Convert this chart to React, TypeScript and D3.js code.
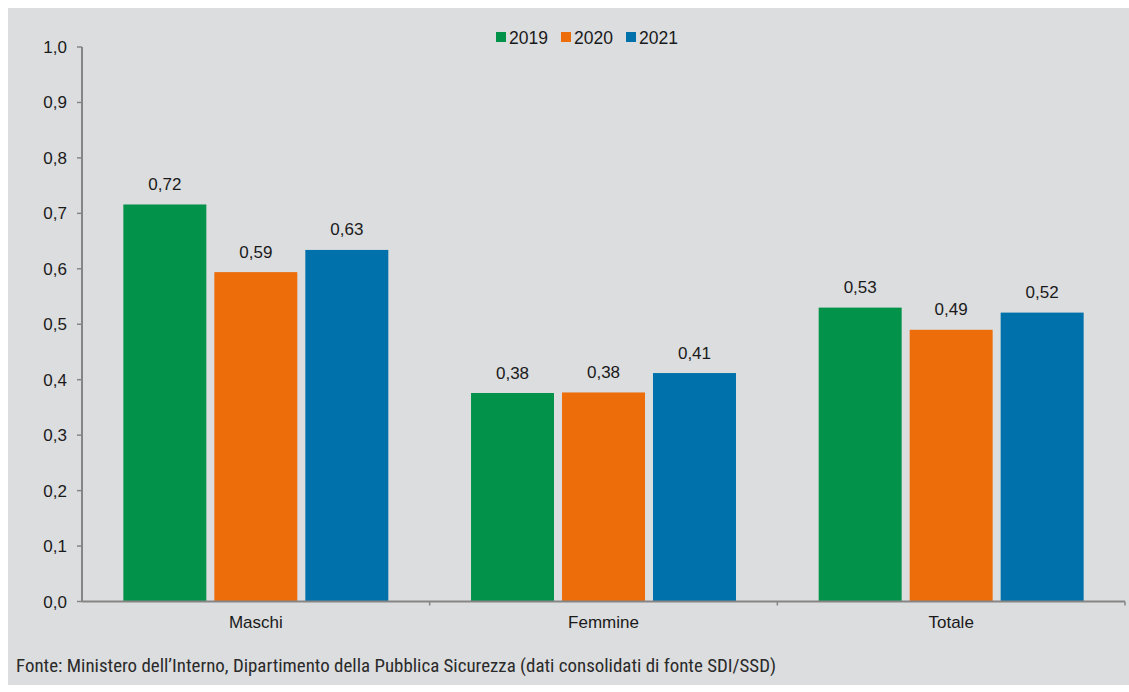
import React from "react";
import * as d3 from "d3";

const categories = ["Maschi", "Femmine", "Totale"];
const years = ["2019", "2020", "2021"];
const values2019 = [0.716, 0.376, 0.53];
const values2020 = [0.594, 0.377, 0.49];
const values2021 = [0.634, 0.412, 0.521];
const yTicks = [0, 0.1, 0.2, 0.3, 0.4, 0.5, 0.6, 0.7, 0.8, 0.9, 1.0];
const colors = ["#03924A", "#EC6D0A", "#0071AB"];
const source = "Fonte: Ministero dell\u2019Interno, Dipartimento della Pubblica Sicurezza (dati consolidati di fonte SDI/SSD)";

const series = [values2019, values2020, values2021];

export default function App() {
  const W = 1129, H = 692;
  const left = 82, right = 1125, top = 47, bottom = 601.5;
  const x0 = d3.scaleBand().domain(categories).range([left, right]).padding(0);
  const x1 = d3.scaleBand().domain(years).range([0, x0.bandwidth()]).paddingInner(0.088).paddingOuter(0.4545);
  const y = d3.scaleLinear().domain([0, 1]).range([bottom, top]);
  const fmt = (v: number) => d3.format(".2f")(v).replace(".", ",");
  const fmt1 = (v: number) => d3.format(".1f")(v).replace(".", ",");
  const font = "'Liberation Sans', Arial, sans-serif";
  const axisColor = "#858585";
  const legendX = [496, 561, 626];
  const fs = 17;

  return (
    <svg width={W} height={H} style={{ position: "absolute", left: 0, top: 0 }} fontFamily={font}>
      <rect x={8} y={8} width={W - 8} height={677} fill="#DCDDDF" />
      {/* legend */}
      {years.map((yr, i) => (
        <g key={yr}>
          <rect x={legendX[i]} y={32} width={10} height={10} fill={colors[i]} />
          <text x={legendX[i] + 13} y={43.5} fontSize={17.5} fill="#1a1a1a">{yr}</text>
        </g>
      ))}
      {/* bars */}
      {categories.map((c, ci) => (
        <g key={c} transform={`translate(${x0(c)},0)`}>
          {years.map((yr, si) => {
            const v = series[si][ci];
            const bx = x1(yr)!;
            return (
              <g key={yr}>
                <rect x={bx} y={y(v)} width={x1.bandwidth()} height={bottom - y(v)} fill={colors[si]} />
                <text x={bx + x1.bandwidth() / 2} y={y(v) - 14.5} textAnchor="middle" fontSize={fs} fill="#1a1a1a">{fmt(v)}</text>
              </g>
            );
          })}
        </g>
      ))}
      {/* y axis */}
      <line x1={left} x2={left} y1={top} y2={bottom} stroke={axisColor} strokeWidth={2} />
      {yTicks.map((t) => (
        <g key={t}>
          <line x1={left - 5} x2={left} y1={y(t)} y2={y(t)} stroke={axisColor} strokeWidth={1.5} />
          <text x={67} y={y(t) + 6} textAnchor="end" fontSize={fs} fill="#1a1a1a">{fmt1(t)}</text>
        </g>
      ))}
      {/* x axis */}
      <line x1={left} x2={right} y1={bottom} y2={bottom} stroke={axisColor} strokeWidth={2} />
      {categories.map((c) => (
        <g key={c}>
          <line x1={x0(c)! + x0.bandwidth()} x2={x0(c)! + x0.bandwidth()} y1={bottom} y2={bottom + 4} stroke={axisColor} strokeWidth={1.5} />
          <text x={x0(c)! + x0.bandwidth() / 2} y={628} textAnchor="middle" fontSize={fs} fill="#1a1a1a">{c}</text>
        </g>
      ))}
      <text x={16} y={672} fontSize={18} fill="#2a2a2a" fontFamily="'Liberation Sans Narrow', 'Roboto Condensed', Arial, sans-serif" textLength={760} lengthAdjust="spacingAndGlyphs">{source}</text>
    </svg>
  );
}
